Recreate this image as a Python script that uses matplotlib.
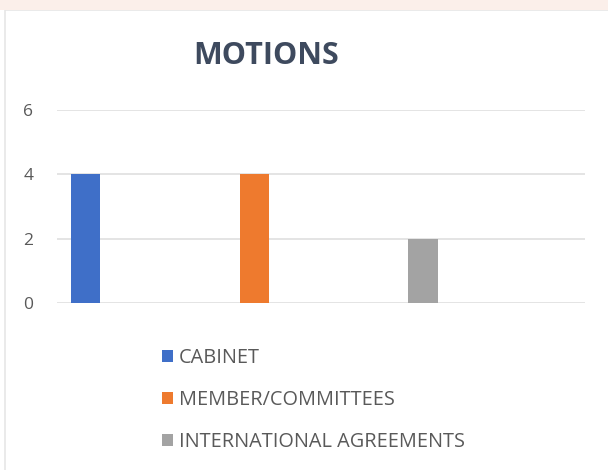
import matplotlib.pyplot as plt
from matplotlib.patches import Rectangle

# data
series = ["CABINET", "MEMBER/COMMITTEES", "INTERNATIONAL AGREEMENTS"]
values = [4, 4, 2]
colors = ["#3F6FC8", "#EE7A2E", "#A3A3A3"]
yticks = [0, 2, 4, 6]

plt.rcParams["font.family"] = ["Open Sans", "DejaVu Sans"]

fig = plt.figure(figsize=(6.08, 4.70), dpi=100)
fig.patch.set_facecolor("white")

# faint frame of the pasted chart
fig.patches.append(Rectangle((5 / 608, -0.01), 1.0, 1 - 10 / 470 + 0.01,
                             transform=fig.transFigure, fill=False,
                             edgecolor="#E6E6E6", linewidth=1.2))
fig.patches.append(Rectangle((0, 1 - 10 / 470), 1, 10 / 470,
                             transform=fig.transFigure, facecolor="#FBEFEA",
                             edgecolor="none"))

ax = fig.add_axes([57 / 608, 1 - 303 / 470, 528 / 608, 193 / 470])
bars = []
for i, (name, v, c) in enumerate(zip(series, values, colors)):
    b = ax.bar(i, v, width=0.172, color=c, label=name, zorder=3)
    bars.append(b)

ax.set_xlim(-0.169, 2.96)
ax.set_ylim(0, 6)
ax.set_yticks(yticks)
ax.set_xticks([])
ax.grid(axis="y", color="#E2E2E2", linewidth=1.3, zorder=0)
for s in ax.spines.values():
    s.set_visible(False)
ax.tick_params(axis="y", length=0, pad=17, labelsize=12.5, labelcolor="#595959")

fig.text(266 / 608, 1 - 56 / 470, "MOTIONS", ha="center", va="center",
         fontsize=22, fontweight="bold", color="#3E4A5E")

leg = fig.legend(handles=bars, labels=series, loc="upper left",
                 bbox_to_anchor=(146 / 608, 1 - 332 / 470), frameon=False,
                 fontsize=14.3, handlelength=0.55, handleheight=0.55,
                 handletextpad=0.3, labelspacing=1.1, borderpad=0.3)
for t in leg.get_texts():
    t.set_color("#595959")

fig.savefig("out.png", dpi=100)
